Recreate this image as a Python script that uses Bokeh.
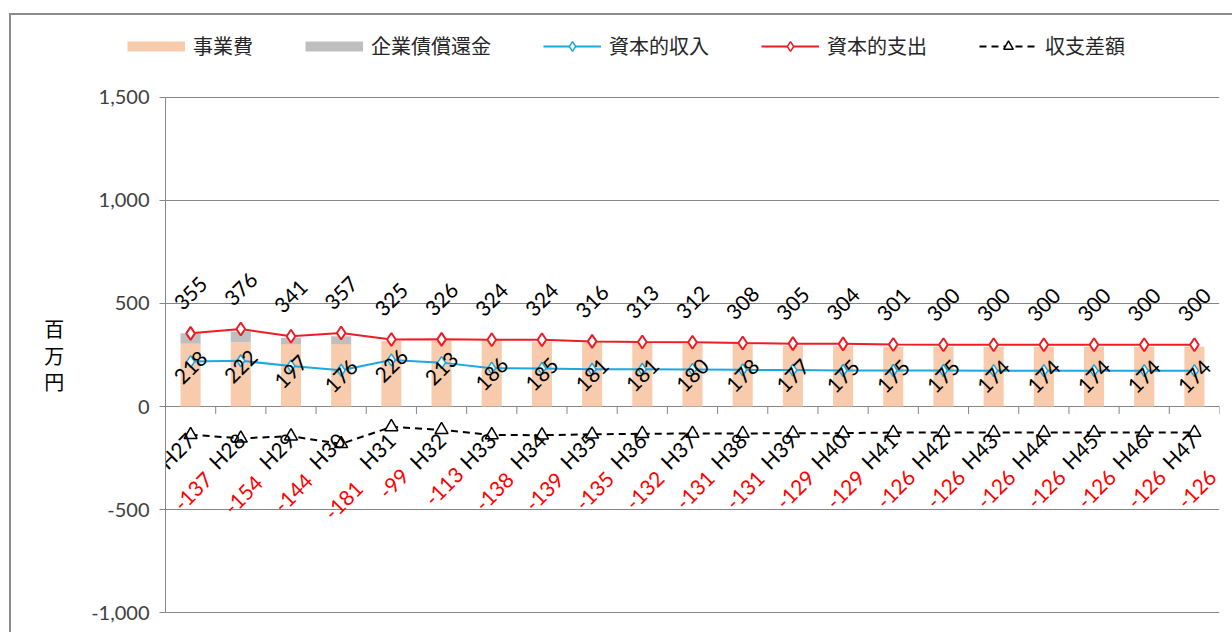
import numpy as np
from bokeh.plotting import figure
from bokeh.layouts import column
from bokeh.models import (Range1d, FixedTicker, NumeralTickFormatter, Legend, LegendItem)
from bokeh.core.properties import value
from bokeh.embed import file_html
from bokeh.resources import INLINE

# ---------------- data ----------------
years = ["H27", "H28", "H29", "H30", "H31", "H32", "H33", "H34", "H35", "H36", "H37",
         "H38", "H39", "H40", "H41", "H42", "H43", "H44", "H45", "H46", "H47"]
jigyo = [305, 312, 303, 303, 318, 318, 316, 314, 312, 308, 305, 303, 295, 292, 290,
         290, 290, 290, 290, 290, 290]            # 事業費
shokan = [50, 52, 30, 38, 0, 0, 5, 0, 0, 0, 0, 0, 0, 0, 0, 0, 0, 0, 0, 0, 0]  # 企業債償還金
shunyu = [218, 222, 197, 176, 226, 213, 186, 185, 181, 181, 180, 178, 177, 175, 175,
          175, 174, 174, 174, 174, 174]           # 資本的収入
shishutsu = [355, 376, 341, 357, 325, 326, 324, 324, 316, 313, 312, 308, 305, 304, 301,
             300, 300, 300, 300, 300, 300]        # 資本的支出
sagaku = [-137, -154, -144, -181, -99, -113, -138, -139, -135, -132, -131, -131, -129,
          -129, -126, -126, -126, -126, -126, -126, -126]  # 収支差額
y_ticks = [-1000, -500, 0, 500, 1000, 1500]
series_names = ["事業費", "企業債償還金", "資本的収入", "資本的支出", "収支差額"]
unit_label = "百\n万\n円"

# ---------------- styles ----------------
PEACH = "#F8CBAD"
GRAY = "#BFBFBF"
BLUE = "#1BA8E0"
RED = "#EE1C25"
AXIS = "#868686"
NUM_FONT = "Lato"
JP_FONT = "Noto Sans CJK JP"
LBL = "21px"
W = 1221

n = len(years)
x = np.arange(1, n + 1)
j = np.array(jigyo)
s = np.array(shokan)

# ---------------- main chart ----------------
p = figure(width=W, height=550, output_backend="svg", toolbar_location=None,
           x_range=Range1d(0.5, n + 0.5), y_range=Range1d(-1004, 1504),
           min_border_left=154, min_border_right=13, min_border_top=14, min_border_bottom=19)
p.frame_align = False
p.outline_line_color = None
p.background_fill_color = "white"
p.border_fill_color = "white"

p.xaxis.visible = False
p.xgrid.visible = False
yax = p.yaxis[0]
yax.ticker = FixedTicker(ticks=y_ticks)
yax.formatter = NumeralTickFormatter(format="0,0")
yax.bounds = (min(y_ticks), max(y_ticks))
yax.axis_line_color = AXIS
yax.major_tick_line_color = AXIS
yax.major_tick_out = 6
yax.major_tick_in = 0
yax.minor_tick_line_color = None
yax.major_label_text_font = NUM_FONT
yax.major_label_text_font_size = "20px"
yax.major_label_text_color = "#404040"
yax.major_label_standoff = 10
yax.axis_label = unit_label
yax.axis_label_orientation = "horizontal"
yax.axis_label_text_font = JP_FONT
yax.axis_label_text_font_size = "20px"
yax.axis_label_text_font_style = "normal"
yax.axis_label_text_color = "#000000"
yax.axis_label_text_line_height = 0.9
yax.axis_label_standoff = 24
p.ygrid.ticker = FixedTicker(ticks=y_ticks)
p.ygrid.grid_line_color = AXIS

# bars
p.vbar(x=x, top=j, bottom=0, width=0.4, fill_color=PEACH, line_color=None)
p.vbar(x=x, top=j + s, bottom=j, width=0.4, fill_color=GRAY, line_color=None)

# category axis at y = 0 : tick marks at category boundaries
edges = np.arange(0.5, n + 1.0, 1.0)
p.segment(x0=edges, y0=0, x1=edges, y1=-36, line_color=AXIS, line_width=1)

# lines
p.line(x, shunyu, line_color=BLUE, line_width=2)
p.scatter(x, shunyu, marker="diamond", size=12, line_color=BLUE, fill_color="white",
          line_width=1.5)
p.line(x, shishutsu, line_color=RED, line_width=2)
p.scatter(x, shishutsu, marker="diamond", size=13, line_color=RED, fill_color="white",
          line_width=2)
p.line(x, sagaku, line_color="black", line_width=2, line_dash="7 5")
p.scatter(x, sagaku, marker="triangle", size=13, line_color="black", fill_color="white",
          line_width=1.5)

# category labels (next to the y = 0 axis)
p.text(x=x, y=np.zeros(n) - 145, text=years, angle=np.pi / 4, text_align="right",
       text_baseline="middle", text_font=value(NUM_FONT), text_font_size=LBL,
       text_color="black")

# data labels
p.text(x=x, y=np.array(shishutsu) + 194, text=[str(v) for v in shishutsu], angle=np.pi / 4,
       text_align="center", text_baseline="middle", text_font=value(NUM_FONT),
       text_font_size=LBL, text_color="black")
p.text(x=x, y=np.array(shunyu) - 28, text=[str(v) for v in shunyu], angle=np.pi / 4,
       text_align="center", text_baseline="middle", text_font=value(NUM_FONT),
       text_font_size=LBL, text_color="black")
p.text(x=x + 0.05, y=np.array(sagaku) - 275, text=[str(v) for v in sagaku], angle=np.pi / 4,
       text_align="center", text_baseline="middle", text_font=value(NUM_FONT),
       text_font_size=LBL, text_color="#FF0000")

# ---------------- legend strip ----------------
lg = figure(width=W, height=67, output_backend="svg", toolbar_location=None,
            x_range=Range1d(0, 1), y_range=Range1d(0, 1),
            min_border_left=0, min_border_right=0, min_border_top=0, min_border_bottom=0)
lg.frame_align = False
lg.axis.visible = False
lg.grid.visible = False
lg.outline_line_color = None
lg.background_fill_color = "white"
lg.border_fill_color = "white"

nan = [np.nan]
r1 = lg.line(x=nan, y=nan, line_color=PEACH, line_width=10)
r2 = lg.line(x=nan, y=nan, line_color=GRAY, line_width=10)
r3 = [lg.line(x=nan, y=nan, line_color=BLUE, line_width=2),
      lg.scatter(x=nan, y=nan, marker="diamond", size=11, line_color=BLUE,
                 fill_color="white", line_width=1.5)]
r4 = [lg.line(x=nan, y=nan, line_color=RED, line_width=2),
      lg.scatter(x=nan, y=nan, marker="diamond", size=11, line_color=RED,
                 fill_color="white", line_width=1.5)]
r5 = [lg.line(x=nan, y=nan, line_color="black", line_width=2, line_dash="7 5"),
      lg.scatter(x=nan, y=nan, marker="triangle", size=11, line_color="black",
                 fill_color="white", line_width=1.5)]

legend = Legend(items=[
    LegendItem(label=series_names[0], renderers=[r1]),
    LegendItem(label=series_names[1], renderers=[r2]),
    LegendItem(label=series_names[2], renderers=r3),
    LegendItem(label=series_names[3], renderers=r4),
    LegendItem(label=series_names[4], renderers=r5),
], orientation="horizontal", location=(116, 22))
legend.glyph_width = 58
legend.glyph_height = 24
legend.label_standoff = 8
legend.spacing = 52
legend.padding = 0
legend.margin = 0
legend.border_line_color = None
legend.background_fill_alpha = 0
legend.label_text_font = JP_FONT
legend.label_text_font_size = "20px"
legend.label_text_color = "#262626"
lg.add_layout(legend, "center")

page = column(lg, p, spacing=0)
page.styles = {"margin-left": "9px", "margin-top": "13px",
               "border-left": "2px solid #8c8c8c", "border-top": "2px solid #8c8c8c"}

open("out.html", "w").write(file_html(page, INLINE))
